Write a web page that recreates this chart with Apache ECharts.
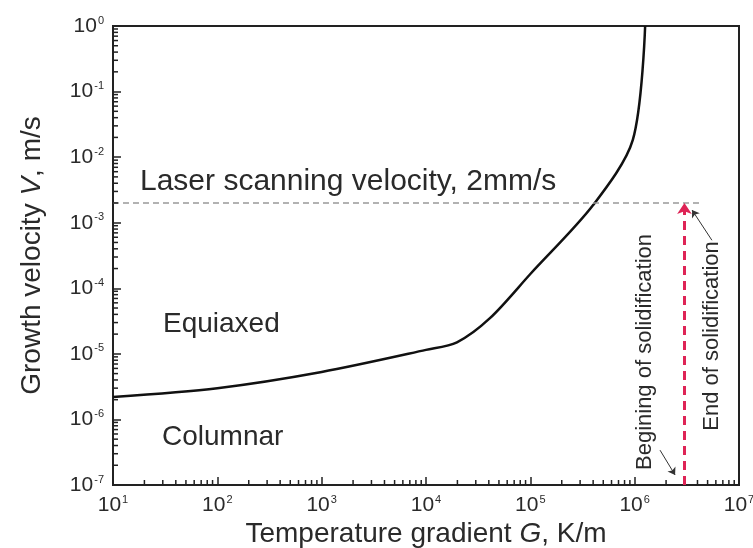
<!DOCTYPE html>
<html>
<head>
<meta charset="utf-8">
<script src="https://cdn.jsdelivr.net/npm/echarts@6/dist/echarts.min.js"></script>
<style>html,body{margin:0;padding:0;background:#fff}#c{width:753px;height:548px}</style>
</head>
<body>
<div id="c"></div>
<script>
// ---- data ----
const curveG = [10, 100, 1000, 10000, 19800, 41000, 100000, 400000, 960000, 1260000];
const curveV = [2.2e-6, 3.0e-6, 5.3e-6, 1.15e-5, 1.5e-5, 3.5e-5, 1.65e-4, 1.86e-3, 0.0183, 1.0];
const laserV = 2e-3;
const laserG = [10, 4.2e6];
const solidG = 3e6;
const solidV = [1e-7, 2e-3];
const beginArrow = [[1.75e6, 3.4e-7], [2.44e6, 1.42e-7]];
const endArrow = [[5.5e6, 5.4e-4], [3.55e6, 1.56e-3]];
const xDecades = [1, 2, 3, 4, 5, 6];
const yDecades = [-7, -6, -5, -4, -3, -2, -1];
const minorMult = [2, 3, 4, 5, 6, 7, 8, 9];

const minorTicks = [];
xDecades.forEach(k => minorMult.forEach(m => minorTicks.push([m * Math.pow(10, k), 1e-7, 0])));
yDecades.forEach(k => minorMult.forEach(m => minorTicks.push([10, m * Math.pow(10, k), 1])));

const chart = echarts.init(document.getElementById('c'), null, {renderer: 'canvas'});
const FONT = 'Liberation Sans, Arial, sans-serif';
const ink = '#222';
const txt = '#2a2a2a';
const labelFmt = v => {
  const e = Math.round(Math.log10(v));
  return '{b|10}{s|' + e + '}';
};
const labelRich = {
  b: {fontSize: 21, color: txt, fontFamily: FONT},
  s: {fontSize: 11, color: txt, fontFamily: FONT, verticalAlign: 'top', padding: [0, 0, 11, 1]}
};

chart.setOption({
  animation: false,
  backgroundColor: '#fff',
  grid: {left: 113, right: 14, top: 26, bottom: 63, outerBoundsMode: 'none', containLabel: false,
    show: true, borderColor: ink, borderWidth: 2, backgroundColor: 'transparent'},
  xAxis: {
    type: 'log', logBase: 10, min: 10, max: 1e7, interval: 1,
    axisLine: {show: true, lineStyle: {color: ink, width: 2}},
    axisTick: {show: true, inside: true, length: 8, lineStyle: {color: ink, width: 1.5}},
    splitLine: {show: false},
    axisLabel: {formatter: labelFmt, rich: labelRich, margin: 9, hideOverlap: false, showMinLabel: true, showMaxLabel: true},
    name: '{n|Temperature gradient }{i|G}{n|, K/m}',
    nameLocation: 'middle', nameGap: 30,
    nameTextStyle: {rich: {
      n: {fontSize: 28, color: txt, fontFamily: FONT},
      i: {fontSize: 28, color: txt, fontFamily: FONT, fontStyle: 'italic'}
    }}
  },
  yAxis: {
    type: 'log', logBase: 10, min: 1e-7, max: 1, interval: 1,
    axisLine: {show: true, lineStyle: {color: ink, width: 2}},
    axisTick: {show: true, inside: true, length: 8, lineStyle: {color: ink, width: 1.5}},
    splitLine: {show: false},
    axisLabel: {formatter: labelFmt, rich: labelRich, margin: 9, showMinLabel: true, showMaxLabel: true},
    name: '{n|Growth velocity }{i|V}{n|, m/s}',
    nameLocation: 'middle', nameGap: 67,
    nameTextStyle: {rich: {
      n: {fontSize: 28, color: txt, fontFamily: FONT},
      i: {fontSize: 28, color: txt, fontFamily: FONT, fontStyle: 'italic'}
    }}
  },
  series: [
    {
      type: 'custom', silent: true, z: 5,
      data: minorTicks,
      renderItem: function (params, api) {
        const p = api.coord([api.value(0), api.value(1)]);
        const t = api.value(2);
        return {type: 'line', shape: t === 0 ? {x1: p[0], y1: p[1], x2: p[0], y2: p[1] - 5} : {x1: p[0], y1: p[1], x2: p[0] + 5, y2: p[1]},
          style: {stroke: ink, lineWidth: 1.5}};
      }
    },
    {
      type: 'line', smooth: 0.3, symbol: 'none',
      lineStyle: {color: '#111', width: 2.5},
      data: curveG.map((g, i) => [g, curveV[i]])
    },
    {
      type: 'line', symbol: 'none',
      lineStyle: {color: '#999', width: 1.5, type: [6, 4]},
      data: laserG.map(g => [g, laserV])
    },
    {
      type: 'lines', coordinateSystem: 'cartesian2d', z: 6,
      symbol: ['none', 'arrow'], symbolSize: [0, 11],
      lineStyle: {color: '#de2456', width: 3, type: [9, 6], opacity: 1},
      data: [{coords: solidV.map(v => [solidG, v])}]
    },
    {
      type: 'lines', coordinateSystem: 'cartesian2d', z: 6,
      symbol: ['none', 'arrow'], symbolSize: [0, 7],
      lineStyle: {color: '#333', width: 1, opacity: 1},
      data: [{coords: beginArrow}, {coords: endArrow}]
    }
  ],
  graphic: [
    {type: 'text', x: 140, y: 182, style: {text: 'Laser scanning velocity, 2mm/s', font: '30px ' + FONT, fill: txt, verticalAlign: 'middle'}},
    {type: 'text', x: 163, y: 324, style: {text: 'Equiaxed', font: '28px ' + FONT, fill: txt, verticalAlign: 'middle'}},
    {type: 'text', x: 162, y: 437, style: {text: 'Columnar', font: '28px ' + FONT, fill: txt, verticalAlign: 'middle'}},
    {type: 'text', x: 645, y: 352, rotation: Math.PI / 2, style: {text: 'Begining of solidification', font: '22px ' + FONT, fill: txt, align: 'center', verticalAlign: 'middle'}},
    {type: 'text', x: 712, y: 336, rotation: Math.PI / 2, style: {text: 'End of solidification', font: '22px ' + FONT, fill: txt, align: 'center', verticalAlign: 'middle'}}
  ]
});
</script>
</body>
</html>
